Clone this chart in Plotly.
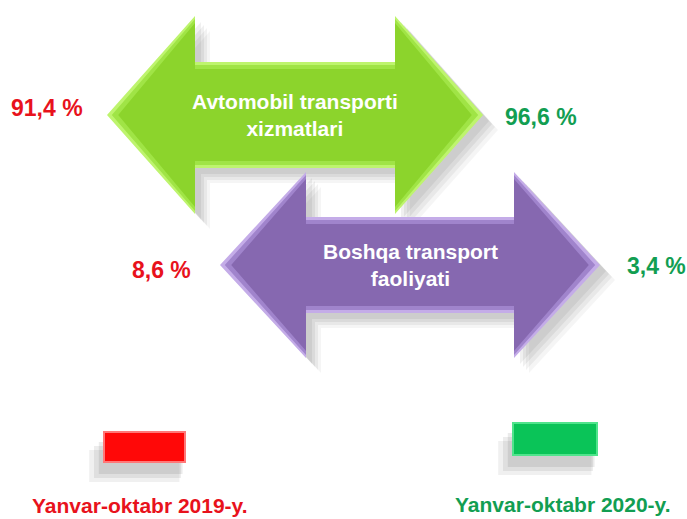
import plotly.graph_objects as go

# ---- data ----
categories = ["Avtomobil transporti<br>xizmatlari", "Boshqa transport<br>faoliyati"]
share_2019 = [91.4, 8.6]
share_2020 = [96.6, 3.4]
periods = ["Yanvar-oktabr 2019-y.", "Yanvar-oktabr 2020-y."]

# ---- style / layout constants ----
W, H = 687, 519
FONT = "Liberation Sans Narrow, Arial Narrow, Liberation Sans, Arial, sans-serif"
RED = "rgb(232,18,28)"
GREEN_TXT = "rgb(18,158,82)"

arrows = [
    dict(xl=107, xr=483, yc=115, hw=88, hh=99, sh=53,
         layers=["rgb(190,244,110)", "rgb(160,228,70)", "rgb(140,212,44)"]),
    dict(xl=220, xr=600, yc=265, hw=86, hh=93, sh=48,
         layers=["rgb(196,172,232)", "rgb(160,132,204)", "rgb(134,104,176)"]),
]
label_left = [(47, 108, "center"), (161, 270, "center")]
label_right = [(541, 117, "center"), (656, 266, "center")]


def arrow_path(a, dx=0, dy=0, shrink=0):
    xl, xr, yc = a["xl"] + shrink * 1.6 + dx, a["xr"] - shrink * 1.6 + dx, a["yc"] + dy
    hw, hh, sh = a["hw"], a["hh"] - shrink, a["sh"] - shrink
    pts = [(xl, yc), (a["xl"] + hw + dx, yc - hh), (a["xl"] + hw + dx, yc - sh),
           (a["xr"] - hw + dx, yc - sh), (a["xr"] - hw + dx, yc - hh), (xr, yc),
           (a["xr"] - hw + dx, yc + hh), (a["xr"] - hw + dx, yc + sh),
           (a["xl"] + hw + dx, yc + sh), (a["xl"] + hw + dx, yc + hh)]
    return "M " + " L ".join(f"{x:.1f},{y:.1f}" for x, y in pts) + " Z"


fig = go.Figure()
shapes = []
annotations = []

for i, a in enumerate(arrows):
    # soft shadow
    for k, op in [(15, 0.04), (12, 0.05), (9, 0.06), (6, 0.06)]:
        shapes.append(dict(type="path", path=arrow_path(a, dx=k, dy=k), fillcolor=f"rgba(0,0,0,{op})",
                           line=dict(width=0), layer="below"))
    for s, col in zip([0, 3, 7], a["layers"]):
        shapes.append(dict(type="path", path=arrow_path(a, shrink=s), fillcolor=col, line=dict(width=0)))
    annotations.append(dict(x=(a["xl"] + a["xr"]) / 2, y=a["yc"], text=f"<b>{categories[i]}</b>",
                            showarrow=False, font=dict(family=FONT, size=21, color="white"),
                            xanchor="center", yanchor="middle"))
    lx, ly, la = label_left[i]
    rx, ry, ra = label_right[i]
    annotations.append(dict(x=lx, y=ly, text=f"<b>{str(share_2019[i]).replace('.', ',')} %</b>", xanchor=la,
                            showarrow=False, font=dict(family=FONT, size=23, color=RED)))
    annotations.append(dict(x=rx, y=ry, text=f"<b>{str(share_2020[i]).replace('.', ',')} %</b>", xanchor=ra,
                            showarrow=False, font=dict(family=FONT, size=23, color=GREEN_TXT)))

# legend boxes
legend = [
    dict(x0=104, x1=185, y0=432, y1=462, fill="rgb(255,8,8)", edge="rgb(255,120,120)", tx=140, ty=505, col=RED),
    dict(x0=513, x1=597, y0=423, y1=455, fill="rgb(10,196,88)", edge="rgb(80,228,140)", tx=563, ty=504, col=GREEN_TXT),
]
for j, L in enumerate(legend):
    for k, op in [(14, 0.06), (10, 0.07), (6, 0.08)]:
        shapes.append(dict(type="rect", x0=L["x0"] - k * 1.2 + 2, x1=L["x1"] - k * 0.4, y0=L["y0"] + k + 4,
                           y1=L["y1"] + k + 6, fillcolor=f"rgba(0,0,0,{op})", line=dict(width=0), layer="below"))
    shapes.append(dict(type="rect", x0=L["x0"], x1=L["x1"], y0=L["y0"], y1=L["y1"],
                       fillcolor=L["fill"], line=dict(color=L["edge"], width=2)))
    annotations.append(dict(x=L["tx"], y=L["ty"], text=f"<b>{periods[j]}</b>", showarrow=False,
                            font=dict(family=FONT, size=21, color=L["col"]), yanchor="middle"))

fig.add_trace(go.Scatter(x=[0, W], y=[0, H], mode="markers", marker=dict(opacity=0), hoverinfo="skip",
                         showlegend=False))

fig.update_layout(
    width=W, height=H, margin=dict(l=0, r=0, t=0, b=0),
    paper_bgcolor="white", plot_bgcolor="white",
    xaxis=dict(range=[0, W], visible=False, fixedrange=True),
    yaxis=dict(range=[H, 0], visible=False, fixedrange=True),
    shapes=shapes, annotations=annotations, showlegend=False,
)

fig.write_html("out.html", config={"displayModeBar": False},
               post_script="document.body.style.margin='0px';document.body.style.overflow='hidden';")
